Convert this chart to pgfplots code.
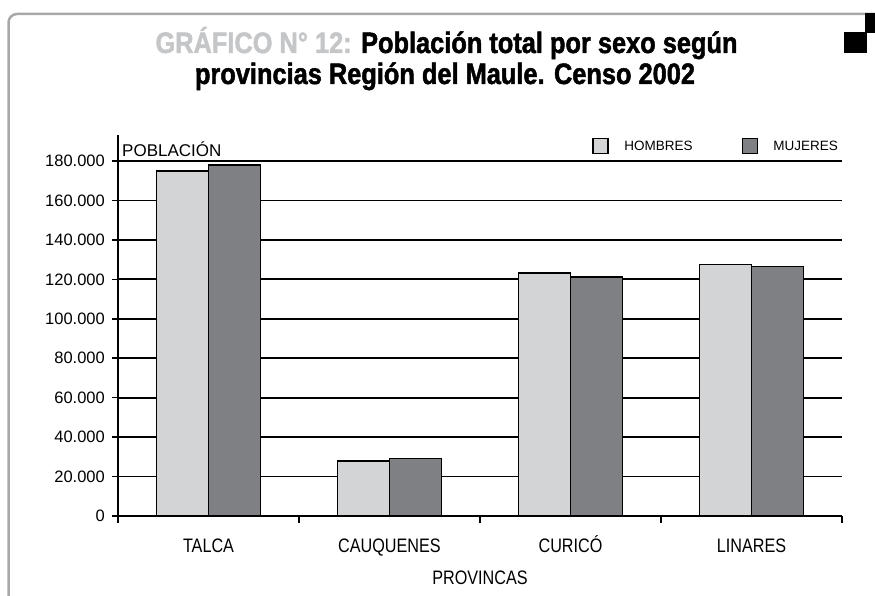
\documentclass[border=0pt]{standalone}
\usepackage{pgfplots}
\pgfplotsset{compat=1.18}
\usepackage{fontspec}
\setmainfont{Liberation Sans}
\newfontfamily\condfont[FakeStretch=0.83]{Liberation Sans}
\newfontfamily\titlefont[FakeStretch=0.86, BoldFeatures={FakeBold=1.6}]{Liberation Sans}
\definecolor{hom}{HTML}{D3D4D6}
\definecolor{muj}{HTML}{7F8083}
\definecolor{tgrey}{HTML}{C4C6C8}
\definecolor{framec}{HTML}{A8A8A8}
\begin{document}
\begin{tikzpicture}[x=1pt,y=1pt]
\useasboundingbox (0,0) rectangle (875,-596);
\draw[framec, line width=2.5pt] (8.5,-600) -- (8.5,-22.5) arc[start angle=180,end angle=90,radius=8.5] -- (880,-14);
\fill[black] (844,-32) rectangle (867,-53);
\fill[black] (865,-13) rectangle (875,-33);
\node[anchor=base, inner sep=0pt, font=\titlefont\bfseries\fontsize{29.5}{31}\selectfont] at (446.5,-53) {\textcolor{tgrey}{GRÁFICO N° 12:} Población total por sexo según};
\node[anchor=base, inner sep=0pt, font=\titlefont\bfseries\fontsize{29.5}{31}\selectfont] at (445,-84) {provincias Región del Maule. Censo 2002};
\begin{axis}[
  at={(118pt,-516pt)}, anchor=south west,
  scale only axis, width=724pt, height=381pt,
  xmin=-0.5, xmax=3.5, ymin=0, ymax=193183,
  axis x line=bottom, axis y line=left,
  axis line style={-, line width=1.8pt, black},
  tick align=outside,
  ytick={0,20000,40000,60000,80000,100000,120000,140000,160000,180000},
  scaled y ticks=false,
  yticklabel style={font=\fontsize{16.5}{18}\selectfont, inner xsep=7pt,
    /pgf/number format/fixed, /pgf/number format/1000 sep={.},
    /pgf/number format/assume math mode=true},
  major tick length=6pt,
  y tick style={line width=1.6pt, black},
  ymajorgrids, grid style={black, line width=1.8pt},
  xtick={0,1,2,3},
  xticklabels={TALCA,CAUQUENES,CURICÓ,LINARES},
  major x tick style={draw=none},
  minor xtick={-0.5,0.5,1.5,2.5,3.5},
  minor tick length=7pt,
  minor x tick style={line width=1.6pt, black},
  xticklabel style={font=\condfont\fontsize{19.5}{21}\selectfont, anchor=base, yshift=-30pt},
  xlabel={PROVINCAS},
  xlabel style={font=\condfont\fontsize{19.5}{21}\selectfont, at={(axis description cs:0.5,0)}, anchor=base, yshift=-68pt},
  ybar=0pt, bar width=52pt,
  legend columns=2,
  legend style={draw=none, fill=none, at={(0.9945,0.9711)}, anchor=east,
    font=\fontsize{13.5}{15}\selectfont, inner sep=0pt,
    nodes={inner sep=0pt},
    /tikz/every odd column/.append style={column sep=15pt},
    /tikz/every even column/.append style={column sep=49pt}},
  legend image code/.code={\draw[#1,draw=black,line width=1.8pt] (0pt,-7pt) rectangle (15pt,8pt);},
]
\addplot[fill=hom, draw=black, line width=1.8pt] coordinates {(0,174900) (1,28000) (2,123400) (3,127500)};
\addplot[fill=muj, draw=black, line width=1.8pt] coordinates {(0,178100) (1,29200) (2,121200) (3,126500)};
\legend{HOMBRES, MUJERES}
\end{axis}
\node[anchor=base west, inner sep=0pt, font=\fontsize{17}{19}\selectfont] at (122,-157) {POBLACIÓN};
\end{tikzpicture}
\end{document}
